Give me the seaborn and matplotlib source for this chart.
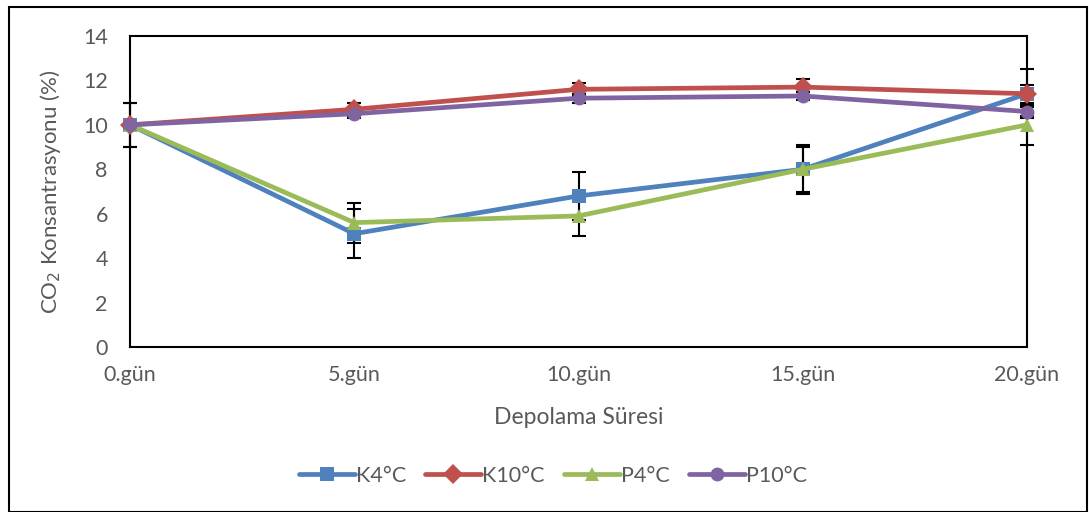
import pandas as pd
import numpy as np
import seaborn as sns
import matplotlib.pyplot as plt
from matplotlib.patches import Rectangle

days = ['0.gün', '5.gün', '10.gün', '15.gün', '20.gün']
k4 = [10.0, 5.1, 6.8, 8.0, 11.4]
k10 = [10.0, 10.7, 11.6, 11.7, 11.4]
p4 = [10.0, 5.6, 5.9, 8.0, 10.0]
p10 = [10.0, 10.5, 11.2, 11.3, 10.6]
k4_err = [1.0, 1.1, 1.1, 1.1, 1.1]
k10_err = [0.2, 0.3, 0.3, 0.35, 0.4]
p4_err = [1.0, 0.9, 0.9, 1.0, 0.9]
p10_err = [0.2, 0.2, 0.2, 0.2, 0.2]

names = ['K4°C', 'K10°C', 'P4°C', 'P10°C']
series = [k4, k10, p4, p10]
errors = [k4_err, k10_err, p4_err, p10_err]
colors = ['#4F81BD', '#C0504D', '#9BBB59', '#8064A2']
markers = ['s', 'D', '^', 'o']

df = pd.DataFrame({
    'gun': days * 4,
    'deger': k4 + k10 + p4 + p10,
    'grup': [n for n in names for _ in days],
})

sns.set_style('white')
plt.rcParams['font.family'] = ['Lato', 'DejaVu Sans']
txt = '#595959'

fig = plt.figure(figsize=(10.89, 5.12), dpi=100)
ax = fig.add_axes([130 / 1089, 1 - 347 / 512, (1027 - 130) / 1089, (347 - 36) / 512])

# error bars first, under the lines
for vals, err in zip(series, errors):
    ax.errorbar(np.arange(len(days)), vals, yerr=err, fmt='none', ecolor='black',
                elinewidth=1.5, capsize=5, capthick=1.5, zorder=2, clip_on=False)

sns.lineplot(data=df, x='gun', y='deger', hue='grup', style='grup',
             palette=colors, markers=markers, dashes=False, linewidth=3.4,
             markersize=10, markeredgewidth=0, ax=ax, zorder=3, clip_on=False,
             sort=False)

ax.set_xlim(0, len(days) - 1)
ax.set_ylim(0, 14)
ax.set_yticks(range(0, 15, 2))
ax.tick_params(axis='both', length=0, labelsize=15.5, colors=txt)
ax.tick_params(axis='y', pad=16)
ax.tick_params(axis='x', pad=13)
for s in ax.spines.values():
    s.set_color('black')
    s.set_linewidth(1.5)

ax.set_xlabel('Depolama Süresi', fontsize=16.5, color=txt, labelpad=16)
ax.set_ylabel('CO$_2$ Konsantrasyonu (%)', fontsize=16, color=txt, labelpad=14)

h, l = ax.get_legend_handles_labels()
ax.legend(h, l, loc='center', bbox_to_anchor=(553 / 1089, 1 - 476 / 512),
          bbox_transform=fig.transFigure, ncol=4, frameon=False, fontsize=15.5,
          handlelength=2.6, columnspacing=0.9, handletextpad=0.05,
          labelcolor=txt)

fig.patches.append(Rectangle((9 / 1089, 0), 1078 / 1089, 1 - 7 / 512,
                             transform=fig.transFigure, fill=False,
                             edgecolor='black', linewidth=1.5))

fig.savefig('out.png', dpi=100)
